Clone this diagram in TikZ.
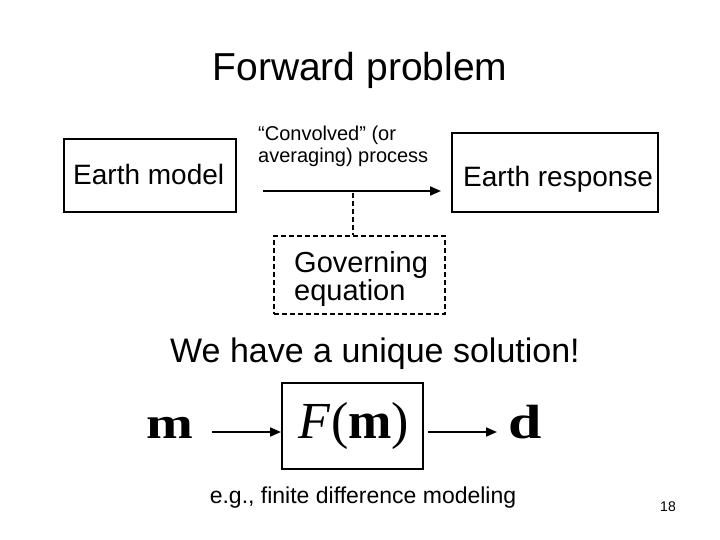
\documentclass[tikz,border=0pt]{standalone}
\usepackage{fontspec}
\setmainfont{Liberation Sans}
\newfontfamily\serifmath{Liberation Serif}
\usetikzlibrary{arrows.meta}
\tikzset{
  box/.style={draw=black, line width=2pt, inner sep=0pt, minimum width=#1},
  dbox/.style={draw=black, line width=2pt, dash pattern=on 5pt off 3pt, inner sep=0pt},
  arr/.style={line width=2pt, -{Triangle[length=11pt,width=9pt]}},
  txt/.style={inner sep=0pt, anchor=base west},
  ctxt/.style={inner sep=0pt, anchor=base},
  mtxt/.style={inner sep=0pt, anchor=base, xscale=1.25},
}
\newcommand{\fsz}[1]{\fontsize{#1}{#1}\selectfont}
\begin{document}
\begin{tikzpicture}[x=1pt,y=-1pt]
\useasboundingbox (0,0) rectangle (720,540);
% title
\node[ctxt] (title) at (360,81) {\fsz{39}Forward problem};
% boxes
\node[box=172pt, minimum height=73pt] (em) at (150,175.5) {};
\node[txt] (emt) at (73,185) {\fsz{28}Earth model};
\node[box=206pt, minimum height=79pt] (er) at (555,172.5) {};
\node[txt] (ert) at (463,187) {\fsz{28}Earth response};
% convolved label
\node[txt] (c1) at (258,141) {\fsz{20}“Convolved” (or};
\node[txt] (c2) at (258,163) {\fsz{20}averaging) process};
% arrow
\coordinate (a1) at (263,191);
\coordinate (a2) at (441,191);
\draw[arr] (a1) -- (a2);
% governing
\node[dbox, minimum width=171pt, minimum height=78pt] (gv) at (359.5,275) {};
\node[txt] (g1) at (294,272) {\fsz{29}Governing};
\node[txt] (g2) at (294,300) {\fsz{29}equation};
\coordinate (d1) at (353,193);
\draw[line width=2pt, dash pattern=on 5pt off 3pt] (d1) -- (gv.north -| d1);
% unique
\node[txt] (uq) at (170,362) {\fsz{34}We have a unique solution!};
% bottom
\node[box=141pt, minimum height=86pt] (fb) at (352.5,426) {};
\node[ctxt] (ft) at (354,438) {\serifmath\fsz{52}\textit{F}(\textbf{m})};
\node[mtxt] (m) at (170,438) {\serifmath\fsz{45}\textbf{m}};
\node[mtxt] (d) at (525,438) {\serifmath\fsz{48}\textbf{d}};
\coordinate (b1) at (212,432);
\coordinate (b2) at (fb.west |- b1);
\coordinate (b3) at (fb.east |- b1);
\coordinate (b4) at (497,432);
\draw[arr] (b1) -- (b2);
\draw[arr] ([xshift=4pt]b3) -- (b4);
\node[ctxt] (eg) at (363,503) {\fsz{23}e.g., finite difference modeling};
\node[ctxt] (pg) at (668,511) {\fsz{14}18};
\end{tikzpicture}
\end{document}
